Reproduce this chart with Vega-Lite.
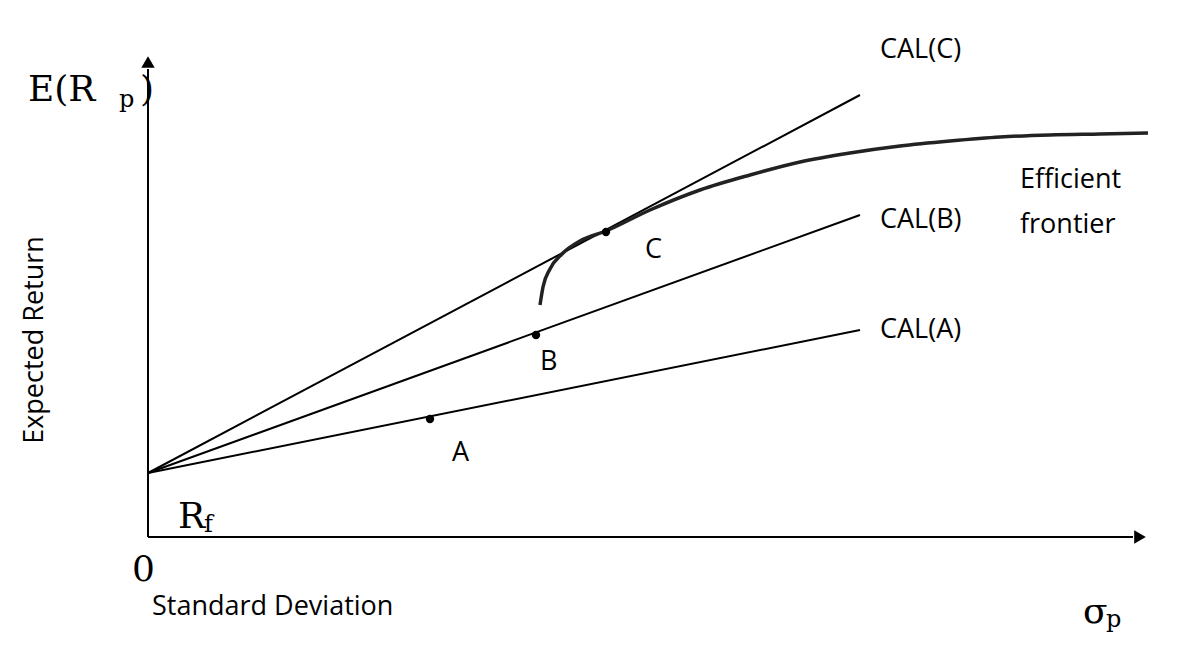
{
  "$schema": "https://vega.github.io/schema/vega-lite/v6.json",
  "width": 1198,
  "height": 648,
  "padding": 0,
  "autosize": {"type": "none"},
  "background": "white",
  "config": {"view": {"stroke": null}},
  "datasets": {
    "lines": [
      {"series": "CAL(A)", "o": 0, "x": 0, "y": 64},
      {"series": "CAL(A)", "o": 1, "x": 712, "y": 207},
      {"series": "CAL(B)", "o": 0, "x": 0, "y": 64},
      {"series": "CAL(B)", "o": 1, "x": 712, "y": 322},
      {"series": "CAL(C)", "o": 0, "x": 0, "y": 64},
      {"series": "CAL(C)", "o": 1, "x": 712, "y": 442},
      {"series": "xaxis", "o": 0, "x": 0, "y": 0},
      {"series": "xaxis", "o": 1, "x": 985, "y": 0},
      {"series": "yaxis", "o": 0, "x": 0, "y": 0},
      {"series": "yaxis", "o": 1, "x": 0, "y": 468}
    ],
    "frontier": [
      {"o": 0, "x": 392, "y": 232},
      {"o": 1, "x": 395, "y": 250},
      {"o": 2, "x": 402, "y": 268},
      {"o": 3, "x": 414, "y": 283},
      {"o": 4, "x": 432, "y": 296},
      {"o": 5, "x": 458, "y": 306},
      {"o": 6, "x": 502, "y": 327},
      {"o": 7, "x": 552, "y": 347},
      {"o": 8, "x": 602, "y": 362},
      {"o": 9, "x": 652, "y": 375},
      {"o": 10, "x": 702, "y": 384},
      {"o": 11, "x": 752, "y": 391},
      {"o": 12, "x": 802, "y": 396},
      {"o": 13, "x": 852, "y": 400},
      {"o": 14, "x": 902, "y": 402},
      {"o": 15, "x": 952, "y": 403},
      {"o": 16, "x": 1000, "y": 404}
    ],
    "points": [
      {"name": "A", "x": 282, "y": 118},
      {"name": "B", "x": 388, "y": 202},
      {"name": "C", "x": 458, "y": 305}
    ],
    "arrows": [
      {"dir": "x", "x": 992, "y": 0, "angle": 90},
      {"dir": "y", "x": 0, "y": 475, "angle": 0}
    ],
    "sans": [
      {"t": "CAL(C)", "x": 732, "y": 487},
      {"t": "CAL(B)", "x": 732, "y": 317},
      {"t": "CAL(A)", "x": 732, "y": 207},
      {"t": "Efficient", "x": 872, "y": 357},
      {"t": "frontier", "x": 872, "y": 312},
      {"t": "C", "x": 497, "y": 287},
      {"t": "B", "x": 392, "y": 175},
      {"t": "A", "x": 304, "y": 84},
      {"t": "Standard Deviation", "x": 4, "y": -70}
    ],
    "serif": [
      {"t": "E(R", "x": -120, "y": 447},
      {"t": ")", "x": -8, "y": 447},
      {"t": "R", "x": 30, "y": 20},
      {"t": "σ", "x": 935, "y": -75},
      {"t": "0", "x": -16, "y": -33}
    ],
    "sub": [
      {"t": "p", "x": -29, "y": 437},
      {"t": "f", "x": 56, "y": 12},
      {"t": "p", "x": 958, "y": -83}
    ]
  },
  "layer": [
    {
      "data": {"name": "lines"},
      "mark": {"type": "line", "color": "black", "strokeWidth": 2},
      "encoding": {
        "x": {"field": "x", "type": "quantitative", "scale": {"domain": [-148, 1050], "nice": false, "zero": false}, "axis": null},
        "y": {"field": "y", "type": "quantitative", "scale": {"domain": [-111, 537], "nice": false, "zero": false}, "axis": null},
        "detail": {"field": "series"},
        "order": {"field": "o"}
      }
    },
    {
      "data": {"name": "frontier"},
      "mark": {"type": "line", "color": "#222", "strokeWidth": 3.5, "interpolate": "monotone"},
      "encoding": {
        "x": {"field": "x", "type": "quantitative"},
        "y": {"field": "y", "type": "quantitative"},
        "order": {"field": "o"}
      }
    },
    {
      "data": {"name": "arrows"},
      "mark": {"type": "point", "shape": "triangle-up", "filled": true, "color": "black", "size": 180, "opacity": 1},
      "encoding": {
        "x": {"field": "x", "type": "quantitative"},
        "y": {"field": "y", "type": "quantitative"},
        "angle": {"field": "angle", "type": "quantitative", "scale": null}
      }
    },
    {
      "data": {"name": "points"},
      "mark": {"type": "circle", "color": "black", "size": 70, "opacity": 1},
      "encoding": {
        "x": {"field": "x", "type": "quantitative"},
        "y": {"field": "y", "type": "quantitative"}
      }
    },
    {
      "data": {"name": "sans"},
      "mark": {"type": "text", "font": "Open Sans", "fontSize": 27, "align": "left", "baseline": "middle", "color": "black"},
      "encoding": {
        "x": {"field": "x", "type": "quantitative"},
        "y": {"field": "y", "type": "quantitative"},
        "text": {"field": "t"}
      }
    },
    {
      "data": {"values": [{"t": "Expected Return", "x": -113, "y": 197}]},
      "mark": {"type": "text", "font": "Open Sans", "fontSize": 27, "angle": 270, "align": "center", "baseline": "middle", "color": "black"},
      "encoding": {
        "x": {"field": "x", "type": "quantitative"},
        "y": {"field": "y", "type": "quantitative"},
        "text": {"field": "t"}
      }
    },
    {
      "data": {"name": "serif"},
      "mark": {"type": "text", "font": "DejaVu Serif", "fontSize": 36, "align": "left", "baseline": "middle", "color": "black"},
      "encoding": {
        "x": {"field": "x", "type": "quantitative"},
        "y": {"field": "y", "type": "quantitative"},
        "text": {"field": "t"}
      }
    },
    {
      "data": {"name": "sub"},
      "mark": {"type": "text", "font": "DejaVu Serif", "fontSize": 24, "align": "left", "baseline": "middle", "color": "black"},
      "encoding": {
        "x": {"field": "x", "type": "quantitative"},
        "y": {"field": "y", "type": "quantitative"},
        "text": {"field": "t"}
      }
    }
  ]
}
